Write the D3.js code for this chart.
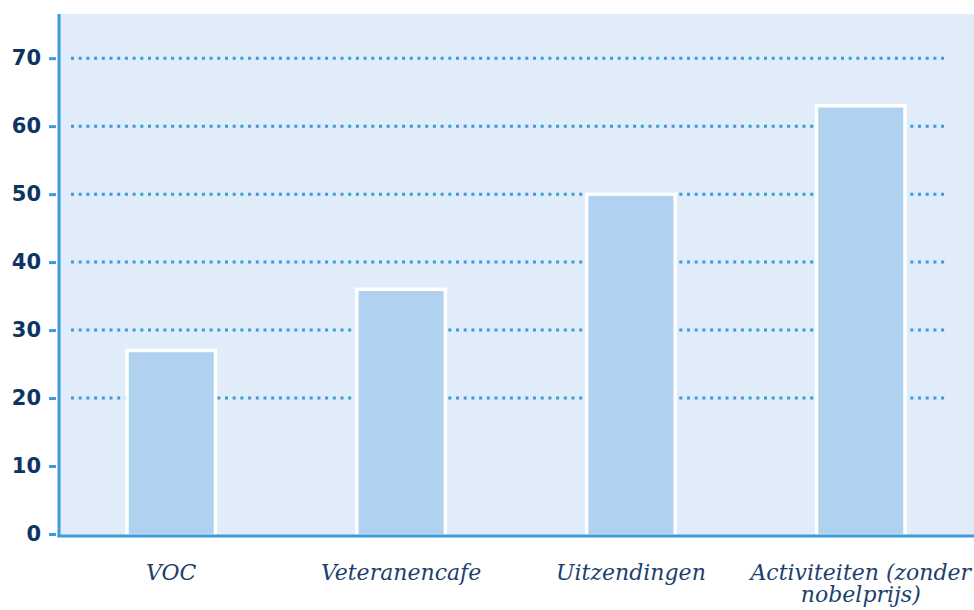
<!DOCTYPE html>
<html><head><meta charset="utf-8">
<script src="https://cdn.jsdelivr.net/npm/d3@7"></script>
<style>body{margin:0;background:#fff}svg{display:block}</style>
</head><body>
<svg id="c" width="974" height="610"></svg>
<script>
const categories = ["VOC", "Veteranencafe", "Uitzendingen", "Activiteiten (zonder\nnobelprijs)"];
const values = [27, 36, 50, 63];
const yTicks = [0, 10, 20, 30, 40, 50, 60, 70];
const gridTicks = [20, 30, 40, 50, 60, 70];

(function () {
const svg = d3.select("#c");
const mLeft = 59, mRight = 974, mTop = 14, mBottom = 535;
const x = d3.scaleBand().domain(categories).range([mLeft - 1, mRight]).paddingInner(0.615).paddingOuter(0.3);
const y = d3.scaleLinear().domain([0, 76.5]).range([534, mTop]);

svg.append("rect").attr("x", mLeft).attr("y", mTop).attr("width", mRight - mLeft).attr("height", mBottom - mTop).attr("fill", "#e0ecf9");

svg.append("g").selectAll("line").data(gridTicks).join("line")
  .attr("x1", 71).attr("x2", 948)
  .attr("y1", d => y(d)).attr("y2", d => y(d))
  .attr("stroke", "#3d9bd8").attr("stroke-width", 3).attr("stroke-dasharray", "3,4.7");

svg.append("g").selectAll("rect").data(values).join("rect")
  .attr("x", (d, i) => x(categories[i]))
  .attr("y", d => y(d))
  .attr("width", x.bandwidth())
  .attr("height", d => y(0) - y(d) + 2)
  .attr("fill", "#b0d1ef").attr("stroke", "#ffffff").attr("stroke-width", 3.5);

const yAxis = d3.axisLeft(y).tickValues(yTicks).tickSize(7).tickPadding(8).tickFormat(d3.format("d"));
const ga = svg.append("g").attr("transform", `translate(${mLeft - 3},0)`).call(yAxis);
ga.select(".domain").remove();
ga.selectAll(".tick line").attr("stroke", "#3d9bd8").attr("stroke-width", 3);
ga.selectAll(".tick text").attr("fill", "#0d3563").attr("font-family", "'DejaVu Sans', sans-serif")
  .attr("font-weight", "bold").attr("font-size", 21);

svg.append("line").attr("x1", mLeft).attr("x2", mLeft).attr("y1", mTop).attr("y2", mBottom + 2)
  .attr("stroke", "#3d9bd8").attr("stroke-width", 3);
svg.append("line").attr("x1", mLeft - 1.5).attr("x2", mRight).attr("y1", 536).attr("y2", 536)
  .attr("stroke", "#3d9bd8").attr("stroke-width", 3);

const lab = svg.append("g").selectAll("text").data(categories).join("text")
  .attr("x", d => x(d) + x.bandwidth() / 2)
  .attr("y", 580)
  .attr("text-anchor", "middle")
  .attr("fill", "#1c3f6e")
  .attr("font-family", "'DejaVu Serif', serif")
  .attr("font-style", "italic")
  .attr("font-size", 22);
lab.each(function(d) {
  const lines = d.split("\n");
  d3.select(this).selectAll("tspan").data(lines).join("tspan")
    .attr("x", x(d) + x.bandwidth() / 2)
    .attr("dy", (l, i) => i === 0 ? 0 : "1em")
    .text(l => l);
});
})();
</script>
</body></html>
